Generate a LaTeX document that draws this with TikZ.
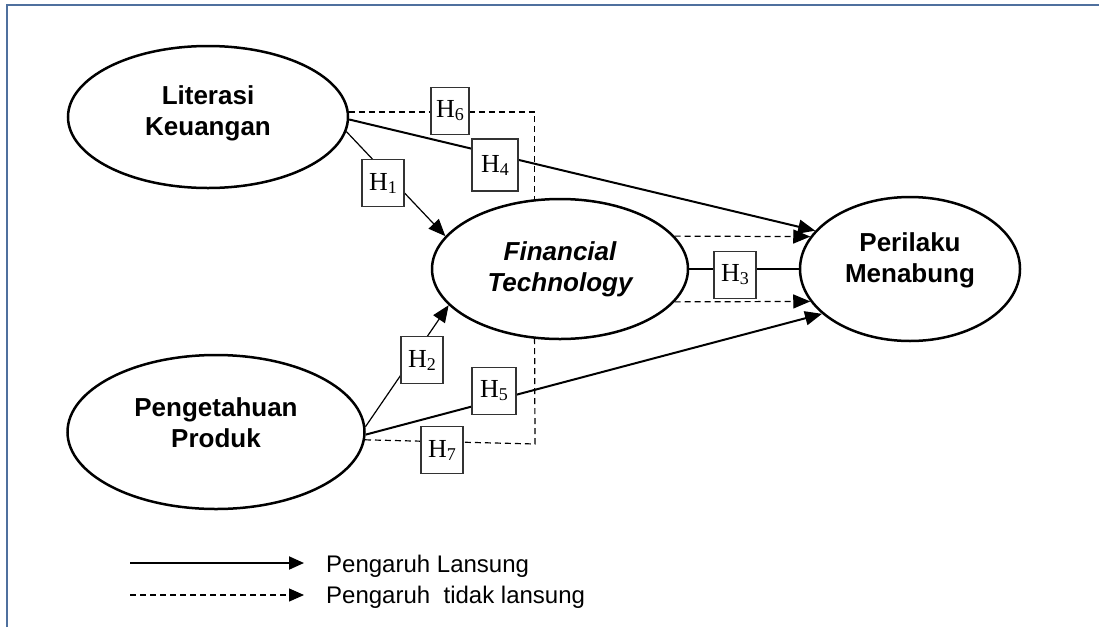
\documentclass[tikz,border=0pt]{standalone}
\usepackage{fontspec}
\setmainfont{Liberation Sans}
\newfontfamily\timesfont{Liberation Serif}
\usetikzlibrary{shapes.geometric,arrows.meta}

\newcommand{\hsub}[1]{{\timesfont\fontsize{26}{30}\selectfont H\raisebox{-3pt}{\fontsize{18}{18}\selectfont #1}}}

\begin{document}
\begin{tikzpicture}[x=1pt,y=-1pt,
    elips/.style={ellipse,draw,line width=2.5pt,inner sep=0pt,align=center,font=\fontsize{26}{31}\selectfont\bfseries},
    kotak/.style={draw=black!80,line width=1.2pt,fill=white,minimum width=42pt,minimum height=47pt,inner sep=0pt},
    panah/.style={-{Triangle[length=17pt,width=14pt]}},
    tebal/.style={line width=2pt},
    tipis/.style={line width=1.2pt},
    putus/.style={line width=1.2pt,dash pattern=on 6pt off 4pt},
    legenda/.style={anchor=west,inner sep=0pt,font=\fontsize{24}{28}\selectfont},
    bingkai/.style={line width=2pt,color={rgb,255:red,79;green,112;blue,158}}]
      \useasboundingbox (0,0) rectangle (1099,627);

      % 枠線
      \draw[bingkai] (7,627) -- (7,5) -- (1099,5);

      % 楕円
      \node[elips,minimum width=280pt,minimum height=142pt,text depth=12pt] (lk) at (208,117) {Literasi\\Keuangan};
      \node[elips,minimum width=297pt,minimum height=154pt,text depth=19pt] (pp) at (216,432) {Pengetahuan\\Produk};
      \node[elips,minimum width=256pt,minimum height=140pt,font=\fontsize{26}{31}\selectfont\bfseries\itshape] (ft) at (560,269) {Financial\\Technology};
      \node[elips,minimum width=220pt,minimum height=144pt,text depth=23pt] (pm) at (910,269) {Perilaku\\Menabung};

      % 直接の矢印
      \draw[tipis,panah] (lk.-6) -- (ft.164);
      \draw[tebal,panah] (lk.-1) -- (pm.158);
      \draw[tipis,panah] (pp.2) -- (ft.-162);
      \draw[tebal,panah] (pp.-1) -- (pm.207);
      \draw[tebal] (ft.east) -- (pm.west);

      % 間接の破線
      \coordinate (b7) at (535,444);
      \draw[putus] (lk.2) -| (ft.110);
      \draw[putus] (pp.-3) -- (b7) -- (ft.-110);
      \draw[putus,panah] (ft.16) -- (pm.162);
      \draw[putus,panah] (ft.-16) -- (pm.198);

      % 仮説の箱
      \node[kotak] (h1) at (383,183) {\hsub{1}};
      \node[kotak] (h2) at (422,360) {\hsub{2}};
      \node[kotak] (h3) at (735,275) {\hsub{3}};
      \node[kotak,minimum width=46pt,minimum height=52pt] (h4) at (495,165) {\hsub{4}};
      \node[kotak,minimum width=44pt] (h5) at (494,391) {\hsub{5}};
      \node[kotak,minimum width=38pt] (h6) at (450,111) {\hsub{6}};
      \node[kotak] (h7) at (442,450) {\hsub{7}};

      % 凡例
      \coordinate (l1a) at (130,563);
      \coordinate (l1b) at (304,563);
      \coordinate (l2a) at (130,595);
      \coordinate (l2b) at (304,595);
      \draw[tebal,-{Triangle[length=15pt,width=13pt]}] (l1a) -- (l1b);
      \draw[putus,-{Triangle[length=15pt,width=13pt]}] (l2a) -- (l2b);
      \node[legenda] (t1) at (326,566) {Pengaruh Lansung};
      \node[legenda] (t2) at (326,597) {Pengaruh\ \ tidak lansung};
    \end{tikzpicture}
\end{document}
